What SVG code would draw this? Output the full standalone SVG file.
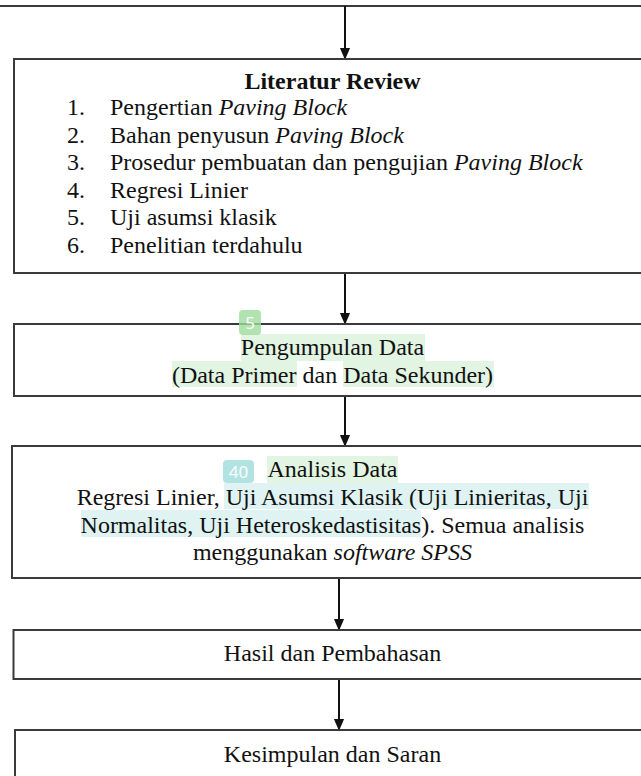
<svg xmlns="http://www.w3.org/2000/svg" width="641" height="776" viewBox="0 0 641 776">
<defs>
<style>
.box{fill:#fff;stroke:#3a3a3a;stroke-width:2}
.t{font-family:"Liberation Serif","Times New Roman",serif;font-size:24px;fill:#111}
.c{text-anchor:middle}
.b{font-weight:bold}
.i{font-style:italic}
.conn{stroke:#111;stroke-width:2;fill:none;marker-end:url(#ah)}
.hg{fill:#e2f4e2}
.hc{fill:#dff3f3}
.bt{font-family:"Open Sans","Noto Sans",sans-serif;font-size:17px;fill:#fff;text-anchor:middle}
</style>
<marker id="ah" markerWidth="12" markerHeight="14" refX="6" refY="13" orient="auto-start-reverse" markerUnits="userSpaceOnUse" viewBox="0 0 12 14">
<path d="M0,0 L12,0 L6,14 Z" fill="#111" transform="rotate(-90 6 7)"/>
</marker>
<marker id="ah2" markerWidth="12" markerHeight="14" refX="13" refY="6" orient="auto" markerUnits="userSpaceOnUse" viewBox="0 0 14 12">
<path d="M0,0 L14,6 L0,12 Z" fill="#111"/>
</marker>
</defs>
<rect width="641" height="776" fill="#fff"/>
<line x1="0" y1="6" x2="641" y2="6" stroke="#3a3a3a" stroke-width="2"/>

<g id="connectors">
<line x1="345" y1="6" x2="345" y2="59" stroke="#111" stroke-width="2" marker-end="url(#ah2)"/>
<line x1="345" y1="273" x2="345" y2="324" stroke="#111" stroke-width="2" marker-end="url(#ah2)"/>
<line x1="345" y1="396" x2="345" y2="446" stroke="#111" stroke-width="2" marker-end="url(#ah2)"/>
<line x1="339" y1="578" x2="339" y2="630" stroke="#111" stroke-width="2" marker-end="url(#ah2)"/>
<line x1="339" y1="679" x2="339" y2="730" stroke="#111" stroke-width="2" marker-end="url(#ah2)"/>
</g>

<g id="literatur-review">
<rect class="box" x="14" y="59" width="640" height="214"/>
<text class="t c b" x="332.5" y="89">Literatur Review</text>
<text class="t" x="67" y="115">1.</text><text class="t" x="110" y="115">Pengertian <tspan class="i">Paving Block</tspan></text>
<text class="t" x="67" y="142.6">2.</text><text class="t" x="110" y="142.6">Bahan penyusun <tspan class="i">Paving Block</tspan></text>
<text class="t" x="67" y="170.2">3.</text><text class="t" x="110" y="170.2">Prosedur pembuatan dan pengujian <tspan class="i">Paving Block</tspan></text>
<text class="t" x="67" y="197.8">4.</text><text class="t" x="110" y="197.8">Regresi Linier</text>
<text class="t" x="67" y="225.4">5.</text><text class="t" x="110" y="225.4">Uji asumsi klasik</text>
<text class="t" x="67" y="253">6.</text><text class="t" x="110" y="253">Penelitian terdahulu</text>
</g>

<g id="pengumpulan-data">
<rect class="box" x="14" y="324" width="640" height="72"/>
<rect class="hg" x="241" y="334" width="184" height="27"/>
<rect class="hg" x="172" y="361" width="125" height="26"/>
<rect class="hg" x="343" y="361" width="151" height="26"/>
<text class="t c" x="332.5" y="355">Pengumpulan Data</text>
<text class="t c" x="332.5" y="383">(Data Primer dan Data Sekunder)</text>
<rect x="239" y="310" width="22" height="25" rx="4" fill="#9ddc9d" fill-opacity="0.8"/>
<text class="bt" x="250" y="329">5</text>
</g>

<g id="analisis-data">
<rect class="box" x="12" y="446" width="642" height="132"/>
<rect class="hg" x="267" y="456" width="131" height="27"/>
<rect class="hc" x="224" y="483" width="365" height="26"/>
<rect class="hc" x="81" y="510" width="340" height="27"/>
<text class="t c" x="332.5" y="477">Analisis Data</text>
<text class="t c" x="332.5" y="505">Regresi Linier, Uji Asumsi Klasik (Uji Linieritas, Uji</text>
<text class="t c" x="332.5" y="532.5">Normalitas, Uji Heteroskedastisitas). Semua analisis</text>
<text class="t c" x="332.5" y="560">menggunakan <tspan class="i">software SPSS</tspan></text>
<rect x="223" y="460" width="31" height="23" rx="4" fill="#9fdcdc" fill-opacity="0.8"/>
<text class="bt" x="238.5" y="478">40</text>
</g>

<g id="hasil-pembahasan">
<rect class="box" x="13.5" y="630" width="641" height="49"/>
<text class="t c" x="332.5" y="661">Hasil dan Pembahasan</text>
</g>

<g id="kesimpulan-saran">
<rect class="box" x="15" y="730" width="640" height="60"/>
<text class="t c" x="332.5" y="762">Kesimpulan dan Saran</text>
</g>
</svg>
